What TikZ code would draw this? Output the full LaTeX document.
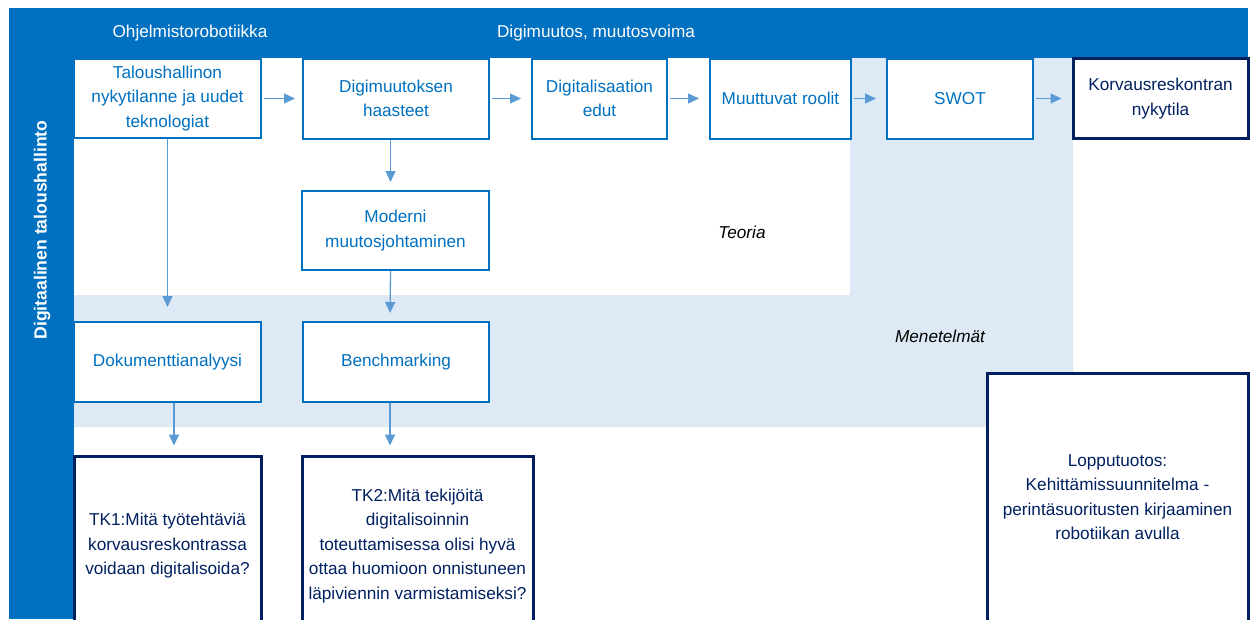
\documentclass[tikz,border=0pt]{standalone}
\usepackage{fontspec}
\setmainfont{Liberation Sans}
\usetikzlibrary{arrows.meta}
\definecolor{bandblue}{RGB}{0,112,192}
\definecolor{paleblue}{RGB}{221,234,246}
\definecolor{navy}{RGB}{0,32,96}
\definecolor{arrowblue}{RGB}{91,155,213}
\tikzset{
  boxfont/.style={font=\fontsize{17.2}{24.5}\selectfont},
  bluebox/.style={boxfont, draw=bandblue, line width=2pt, fill=white, text=bandblue, align=center, inner sep=0pt},
  navybox/.style={boxfont, draw=navy, line width=3pt, fill=white, text=navy, align=center, inner sep=0pt},
  flow/.style={draw=arrowblue, line width=1.3pt, -{Triangle[length=11pt,width=10pt]}}
}
\begin{document}
\begin{tikzpicture}[x=1pt,y=-1pt]
			\useasboundingbox (0,0) rectangle (1250,619);
			\fill[paleblue] (850,58) -- (1073,58) -- (1073,427) -- (74,427) -- (74,295) -- (850,295) -- cycle;
			\fill[bandblue] (9,8) rectangle (1248,58);
			\fill[bandblue] (9,8) rectangle (74,619);
			\node[boxfont, text=white] (robo) at (190,33) {Ohjelmistorobotiikka};
			\node[boxfont, text=white] (muutos) at (596,33) {Digimuutos, muutosvoima};
			\node[text=white, font=\fontsize{17.6}{24.5}\selectfont\bfseries, rotate=90] (talhal) at (42,230) {Digitaalinen taloushallinto};
			% teoria
			\node[bluebox, minimum width=187pt, minimum height=79pt] (talous) at (167.5,98.5) {Taloushallinon\\nykytilanne ja uudet\\teknologiat};
			\node[bluebox, minimum width=186pt, minimum height=80pt] (haasteet) at (396,98.5) {Digimuutoksen\\haasteet};
			\node[bluebox, minimum width=135pt, minimum height=80pt] (edut) at (599.5,98.5) {Digitalisaation\\edut};
			\node[bluebox, minimum width=141pt, minimum height=80pt] (roolit) at (780.5,98.5) {Muuttuvat roolit};
			\node[bluebox, minimum width=146pt, minimum height=80pt] (swot) at (960,98.5) {SWOT};
			\node[navybox, minimum width=175pt, minimum height=80pt] (nykytila) at (1160.5,98.5) {Korvausreskontran\\nykytila};
			\node[bluebox, minimum width=187pt, minimum height=79pt] (moderni) at (395.5,230.5) {Moderni\\muutosjohtaminen};
			\node[font=\fontsize{17.2}{24.5}\selectfont\itshape] (teoria) at (742,232) {Teoria};
			% menetelmat
			\node[bluebox, minimum width=187pt, minimum height=80pt] (doku) at (167.5,362) {Dokumenttianalyysi};
			\node[bluebox, minimum width=186pt, minimum height=80pt] (bench) at (396,362) {Benchmarking};
			\node[font=\fontsize{17.2}{24.5}\selectfont\itshape] (menetelmat) at (940,336) {Menetelmät};
			% tutkimuskysymykset
			\node[navybox, minimum width=187pt, minimum height=180pt] (tk1) at (167.5,546) {TK1:Mitä työtehtäviä\\korvausreskontrassa\\voidaan digitalisoida?};
			\node[navybox, minimum width=231pt, minimum height=180pt] (tk2) at (417.5,546) {TK2:Mitä tekijöitä\\digitalisoinnin\\toteuttamisessa olisi hyvä\\ottaa huomioon onnistuneen\\läpiviennin varmistamiseksi?};
			\node[navybox, minimum width=261pt, minimum height=248pt] (loppu) at (1117.5,497) {Lopputuotos:\\Kehittämissuunnitelma -\\perintäsuoritusten kirjaaminen\\robotiikan avulla};
			\draw[flow, shorten <=2pt, shorten >=7pt] (talous) -- (haasteet);
			\draw[flow, shorten <=2pt, shorten >=10pt] (haasteet) -- (edut);
			\draw[flow, shorten <=2pt, shorten >=10pt] (edut) -- (roolit);
			\draw[flow, shorten <=2pt, shorten >=10pt] (roolit) -- (swot);
			\draw[flow, shorten <=2pt, shorten >=10pt] (swot) -- (nykytila);
			\draw[flow, shorten >=14pt] (talous) -- (doku);
			\draw[flow, shorten >=8pt] ([xshift=-5.5pt]haasteet.south) -- ([xshift=-5pt]moderni.north);
			\draw[flow, shorten >=8pt] ([xshift=-5pt]moderni.south) -- ([xshift=-6pt]bench.north);
			\draw[flow, shorten >=9pt] ([xshift=6.5pt]doku.south) -- ([xshift=6.5pt]tk1.north);
			\draw[flow, shorten >=9pt] ([xshift=-6pt]bench.south) -- ([xshift=-27.5pt]tk2.north);
		\end{tikzpicture}
\end{document}
